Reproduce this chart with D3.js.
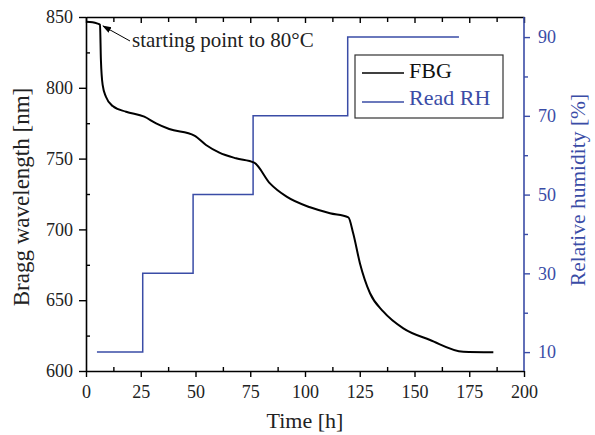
<!DOCTYPE html>
<html>
<head>
<meta charset="utf-8">
<script src="https://cdn.jsdelivr.net/npm/d3@7"></script>
<style>
  body { margin: 0; background: #fff; }
  svg text { font-family: "Liberation Serif", "Times New Roman", "DejaVu Serif", serif; }
</style>
</head>
<body>
<svg width="595" height="435"></svg>
<script>
// FBG Bragg wavelength over time
const fbgTime = [0, 3, 5, 6.4, 6.8, 7.6, 9.1, 12.2, 18.3, 26.6, 32, 38, 49.5, 54.8, 60.9, 68.5, 76.8, 84, 91.6, 102.3, 111.4, 119.8, 122, 125.1, 129.7, 135.8, 144.9, 157.1, 172.3, 186];
const fbgWave = [846.7, 846.3, 845.5, 844.5, 820, 802, 793.7, 787.1, 783.1, 779.6, 774.9, 770.9, 766.2, 759.6, 754.2, 750.2, 747.1, 732.5, 723.1, 715.6, 711.4, 708.5, 697.2, 676, 654.9, 641.9, 630.1, 621.9, 613.6, 613.2];

// Read RH step profile
const rhTime = [5, 25.9, 25.9, 48.9, 48.9, 76.3, 76.3, 119.5, 119.5, 170.3];
const rhValue = [10, 10, 30, 30, 50, 50, 70, 70, 90, 90];

const xTicks = [0, 25, 50, 75, 100, 125, 150, 175, 200];
const yTicks = [600, 650, 700, 750, 800, 850];
const rhTicks = [10, 30, 50, 70, 90];

const blue = "#3a4ca6";
const margin = { top: 17, right: 71, bottom: 64, left: 86 },
    width = 595 - margin.left - margin.right,
    height = 435 - margin.top - margin.bottom;

const svg = d3.select("svg");
const g = svg.append("g")
    .attr("transform", `translate(${margin.left}, ${margin.top})`);

const x = d3.scaleLinear().domain([0, 200]).range([0, width]);
const y = d3.scaleLinear().domain([600, 850]).range([height, 0]);
const y2 = d3.scaleLinear().domain([5.2, 95.1]).range([height, 0]);

// bottom axis: major ticks out, minor ticks in
g.append("g")
    .attr("transform", `translate(0, ${height})`)
    .call(d3.axisBottom(x).tickValues(xTicks).tickSize(6).tickSizeOuter(0).tickPadding(8))
    .call(a => a.selectAll("text").attr("font-size", "18px").attr("fill", "#222"));
g.append("g")
    .attr("transform", `translate(0, ${height})`)
    .call(d3.axisTop(x).tickValues(d3.range(12.5, 200, 25)).tickSize(4).tickFormat(""))
    .select(".domain").remove();

// top axis, ticks inward
g.append("g")
    .call(d3.axisBottom(x).tickValues(xTicks).tickSize(6).tickSizeOuter(0).tickFormat(""));
g.append("g")
    .call(d3.axisBottom(x).tickValues(d3.range(12.5, 200, 25)).tickSize(5).tickFormat(""))
    .select(".domain").remove();

// left axis
g.append("g")
    .call(d3.axisLeft(y).tickValues(yTicks).tickSize(7).tickSizeOuter(0).tickPadding(6))
    .call(a => a.selectAll("text").attr("font-size", "18px").attr("fill", "#222"));
g.append("g")
    .call(d3.axisRight(y).tickValues(d3.range(625, 850, 50)).tickSize(4).tickFormat(""))
    .select(".domain").remove();

// right axis (blue)
const rAxis = g.append("g")
    .attr("transform", `translate(${width}, 0)`)
    .call(d3.axisRight(y2).tickValues(rhTicks).tickSize(6).tickSizeOuter(0).tickPadding(8));
rAxis.selectAll("text").attr("font-size", "18px").attr("fill", blue);
rAxis.selectAll("line").attr("stroke", blue);
rAxis.select(".domain").attr("stroke", blue).attr("d", `M0,0V${height}`);
const rMinor = g.append("g")
    .attr("transform", `translate(${width}, 0)`)
    .call(d3.axisRight(y2).tickValues([20, 40, 60, 80]).tickSize(4).tickFormat(""));
rMinor.select(".domain").remove();
rMinor.selectAll("line").attr("stroke", blue);

g.selectAll(".domain").attr("stroke-width", 1.6);
g.selectAll(".tick line").attr("stroke-width", 1.4);

// RH line
const rhData = rhTime.map((t, i) => [t, rhValue[i]]);
g.append("path")
    .datum(rhData)
    .attr("fill", "none")
    .attr("stroke", blue)
    .attr("stroke-width", 1.5)
    .attr("d", d3.line().x(d => x(d[0])).y(d => y2(d[1])));

// FBG line
const fbgData = fbgTime.map((t, i) => [t, fbgWave[i]]);
g.append("path")
    .datum(fbgData)
    .attr("fill", "none")
    .attr("stroke", "#000")
    .attr("stroke-width", 2)
    .attr("d", d3.line().x(d => x(d[0])).y(d => y(d[1])).curve(d3.curveMonotoneX));

// annotation
svg.append("defs").append("marker")
    .attr("id", "arr")
    .attr("viewBox", "0 0 10 10")
    .attr("refX", 9).attr("refY", 5)
    .attr("markerWidth", 9).attr("markerHeight", 9)
    .attr("orient", "auto")
    .append("path").attr("d", "M0,1.5L10,5L0,8.5z").attr("fill", "#000");
g.append("line")
    .attr("x1", 130 - margin.left).attr("y1", 41 - margin.top)
    .attr("x2", 103 - margin.left).attr("y2", 26 - margin.top)
    .attr("stroke", "#000").attr("stroke-width", 1)
    .attr("marker-end", "url(#arr)");
g.append("text")
    .attr("x", 132 - margin.left)
    .attr("y", 47 - margin.top)
    .attr("font-size", "21px")
    .attr("fill", "#222")
    .text("starting point to 80°C");

// legend
const legend = svg.append("g").attr("transform", "translate(355, 55)");
legend.append("rect")
    .attr("width", 148).attr("height", 63)
    .attr("fill", "#fff").attr("stroke", "#333").attr("stroke-width", 1.2);
const items = [["FBG", "#000"], ["Read RH", blue]];
items.forEach((it, i) => {
    legend.append("line")
        .attr("x1", 7).attr("x2", 49)
        .attr("y1", 18 + i * 29).attr("y2", 18 + i * 29)
        .attr("stroke", it[1]).attr("stroke-width", 1.5);
    legend.append("text")
        .attr("x", 54).attr("y", 23 + i * 27)
        .attr("font-size", "22px")
        .attr("fill", it[1] === "#000" ? "#111" : it[1])
        .text(it[0]);
});

// axis titles
svg.append("text")
    .attr("x", margin.left + width / 2)
    .attr("y", 428)
    .attr("text-anchor", "middle")
    .attr("font-size", "22px")
    .attr("fill", "#222")
    .text("Time [h]");
svg.append("text")
    .attr("transform", "translate(29, 197) rotate(-90)")
    .attr("text-anchor", "middle")
    .attr("font-size", "23px")
    .attr("fill", "#222")
    .text("Bragg wavelength [nm]");
svg.append("text")
    .attr("transform", "translate(585, 190) rotate(-90)")
    .attr("text-anchor", "middle")
    .attr("font-size", "21.5px")
    .attr("fill", blue)
    .text("Relative humidity [%]");
</script>
</body>
</html>
